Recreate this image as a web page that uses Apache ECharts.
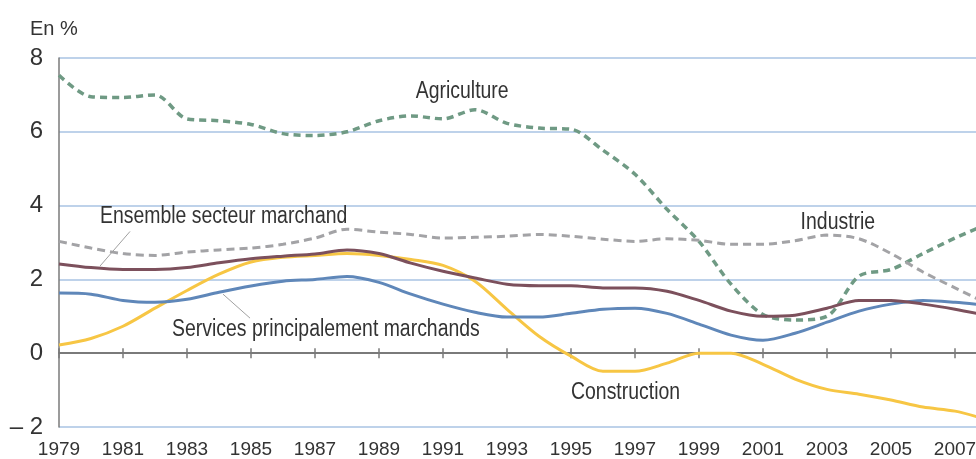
<!DOCTYPE html>
<html>
<head>
<meta charset="utf-8">
<script src="https://cdn.jsdelivr.net/npm/echarts@6/dist/echarts.min.js"></script>
<style>
  html, body { margin: 0; padding: 0; background: #ffffff; }
  #chart { width: 976px; height: 459px; }
</style>
</head>
<body>
<div id="chart"></div>
<script>
// years on the x axis (only odd years get a label)
const years = ["1979","1980","1981","1982","1983","1984","1985","1986","1987","1988",
  "1989","1990","1991","1992","1993","1994","1995","1996","1997","1998",
  "1999","2000","2001","2002","2003","2004","2005","2006","2007","2008"];
const yTicks = [-2, 0, 2, 4, 6, 8];

// en %
const agriculture = [7.53, 6.95, 6.93, 7.0, 6.35, 6.3, 6.2, 5.95, 5.9, 6.0,
  6.3, 6.43, 6.35, 6.6, 6.23, 6.1, 6.07, 5.5, 4.85, 3.9,
  3.03, 1.87, 1.05, 0.9, 1.0, 2.09, 2.27, 2.7, 3.12, 3.5];
const industrie = [3.03, 2.85, 2.7, 2.65, 2.74, 2.8, 2.85, 2.95, 3.12, 3.36,
  3.28, 3.22, 3.12, 3.14, 3.17, 3.22, 3.17, 3.09, 3.03, 3.1,
  3.06, 2.95, 2.95, 3.05, 3.2, 3.1, 2.7, 2.2, 1.77, 1.35];
const ensemble = [2.42, 2.32, 2.27, 2.27, 2.32, 2.45, 2.56, 2.63, 2.69, 2.8,
  2.7, 2.44, 2.22, 2.04, 1.87, 1.83, 1.83, 1.77, 1.77, 1.68,
  1.43, 1.14, 1.0, 1.03, 1.22, 1.43, 1.43, 1.33, 1.19, 1.02];
const services = [1.63, 1.6, 1.43, 1.38, 1.46, 1.65, 1.82, 1.95, 2.0, 2.08,
  1.92, 1.6, 1.33, 1.11, 0.98, 0.98, 1.08, 1.19, 1.22, 1.08,
  0.79, 0.49, 0.35, 0.54, 0.84, 1.14, 1.33, 1.43, 1.38, 1.3];
const construction = [0.22, 0.4, 0.73, 1.22, 1.7, 2.14, 2.47, 2.6, 2.65, 2.7,
  2.65, 2.54, 2.38, 1.95, 1.19, 0.46, -0.08, -0.49, -0.49, -0.27,
  0, 0, -0.3, -0.7, -0.98, -1.11, -1.27, -1.46, -1.57, -1.8];

const font = "Liberation Sans, Arial, sans-serif";
const textColor = "#333333";

const chart = echarts.init(document.getElementById("chart"));

function line(name, data, color, width, dash) {
  return {
    name: name,
    type: "line",
    data: data,
    symbol: "none",
    smooth: 0.3,
    xAxisIndex: 0,
    yAxisIndex: 0,
    lineStyle: { color: color, width: width, type: dash || "solid", cap: "butt" },
    z: 3
  };
}

const tickStyle = { color: "#7a7a7a", width: 1.5 };

chart.setOption({
  animation: false,
  grid: { left: 59, top: 58, width: 928, height: 369, outerBoundsMode: "none", containLabel: false },
  xAxis: [
    {
      type: "category",
      data: years,
      boundaryGap: false,
      axisLine: { onZero: true, lineStyle: { color: "#7a7a7a", width: 2 } },
      axisTick: { show: true, interval: 1, length: 5, lineStyle: tickStyle },
      axisLabel: {
        interval: 1,
        margin: 13,
        color: textColor,
        fontFamily: font,
        fontSize: 19
      },
      splitLine: { show: false }
    },
    {
      // second axis, zeroed on a twin y axis, draws the upper half of the ticks
      type: "category",
      data: years,
      boundaryGap: false,
      position: "bottom",
      axisLine: { show: false, onZero: true, onZeroAxisIndex: 1 },
      axisTick: { show: true, inside: true, interval: 1, length: 5, lineStyle: tickStyle },
      axisLabel: { show: false },
      splitLine: { show: false }
    }
  ],
  yAxis: [
    {
      type: "value",
      min: yTicks[0],
      max: yTicks[yTicks.length - 1],
      interval: 2,
      axisLine: { show: true, lineStyle: { color: "#7a7a7a", width: 1.5 } },
      axisTick: { show: false },
      axisLabel: {
        margin: 16,
        color: textColor,
        fontFamily: font,
        fontSize: 24,
        formatter: v => (v < 0 ? "\u2013 " + Math.abs(v) : String(v))
      },
      splitLine: { lineStyle: { color: "#a9c3e3", width: 1.5 } }
    },
    {
      type: "value",
      min: yTicks[0],
      max: yTicks[yTicks.length - 1],
      interval: 2,
      axisLine: { show: false },
      axisTick: { show: false },
      axisLabel: { show: false },
      splitLine: { show: false }
    }
  ],
  series: [
    line("Agriculture", agriculture, "#6f9a84", 3.5, [7, 5]),
    line("Industrie", industrie, "#a3a3a6", 3, [8, 5]),
    line("Construction", construction, "#f7c644", 3),
    line("Services principalement marchands", services, "#5f87b9", 3),
    line("Ensemble secteur marchand", ensemble, "#7c505c", 3)
  ]
});

// annotations positioned in data space; i is a (fractional) year index
function px(i, v) {
  const i0 = Math.floor(i);
  const a = chart.convertToPixel({ xAxisIndex: 0, yAxisIndex: 0 }, [i0, v]);
  const b = chart.convertToPixel({ xAxisIndex: 0, yAxisIndex: 0 }, [i0 + 1, v]);
  return [a[0] + (b[0] - a[0]) * (i - i0), a[1]];
}
function label(text, i, v, align) {
  const p = px(i, v);
  return {
    type: "text",
    x: p[0],
    y: p[1],
    scaleX: 0.845,
    style: {
      text: text,
      fill: textColor,
      font: "23px " + font,
      align: align,
      verticalAlign: "middle"
    },
    z: 10
  };
}
function leader(a, b) {
  const p1 = px(a[0], a[1]);
  const p2 = px(b[0], b[1]);
  return {
    type: "line",
    shape: { x1: p1[0], y1: p1[1], x2: p2[0], y2: p2[1] },
    style: { stroke: "#a0a0a0", lineWidth: 1 },
    z: 10
  };
}

chart.setOption({
  graphic: [
    {
      type: "text",
      left: 30,
      top: 19,
      style: { text: "En %", fill: textColor, font: "20px " + font }
    },
    label("Agriculture", 12.6, 7.1, "center"),
    label("Industrie", 24.34, 3.55, "center"),
    label("Ensemble secteur marchand", 1.28, 3.69, "left"),
    label("Services principalement marchands", 3.53, 0.65, "left"),
    label("Construction", 16.0, -1.06, "left"),
    leader([2.22, 3.3], [1.28, 2.36]),
    leader([5.125, 1.6], [5.97, 0.95])
  ]
});
</script>
</body>
</html>
